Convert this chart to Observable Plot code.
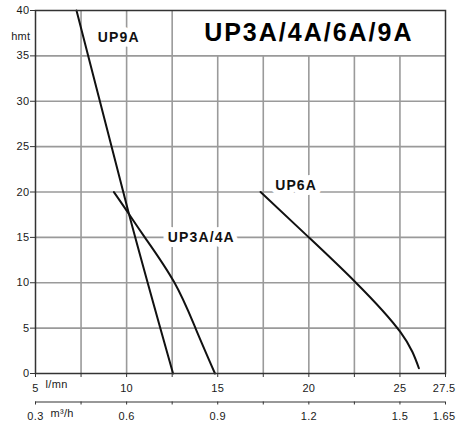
<!DOCTYPE html>
<html>
<head>
<meta charset="utf-8">
<script src="https://cdn.jsdelivr.net/npm/d3@7"></script>
<script src="https://cdn.jsdelivr.net/npm/@observablehq/plot@0.6"></script>
<style>
  html, body { margin: 0; padding: 0; background: white; }
</style>
</head>
<body>
<div id="chart"></div>
<script>
// ---- data ----
const title = "UP3A/4A/6A/9A";

// UP9A curve: flow (l/mn) and head (m)
const up9aFlow = [7.25, 10.1, 12.55];
const up9aHead = [40, 17.8, 0];

// UP3A/4A curve
const up3aFlow = [9.3, 10.12, 11.0, 12.6, 13.8, 14.85];
const up3aHead = [20, 17.6, 15.0, 10.1, 4.9, 0];

// UP6A curve
const up6aFlow = [17.35, 20.0, 22.56, 25.03, 26.04];
const up6aHead = [20, 15.0, 10.06, 4.55, 0.58];

// curve labels and where they sit
const curveNames = ["UP9A", "UP3A/4A", "UP6A"];
const labelFlow = [9.57, 14.1, 19.3];
const labelHead = [37, 15, 20.7];

// axes
const flowTicks = [5, 7.5, 10, 12.5, 15, 17.5, 20, 22.5, 25, 27.5];
const flowTickLabels = ["5", "", "10", "", "15", "", "20", "", "25", "27.5"];
const m3hTickLabels = ["0.3", "", "0.6", "", "0.9", "", "1.2", "", "1.5", "1.65"];
const headTicks = [0, 5, 10, 15, 20, 25, 30, 35, 40];
const gridFlow = [7.5, 10, 12.5, 15, 17.5, 20, 22.5, 25];
const gridHead = [5, 10, 15, 20, 25, 30, 35];

// title cell in the grid (flow 12.5–27.5, head 35–40)
const titleCell = {x1: 12.5, x2: 27.5, y1: 35, y2: 40};

// ---- build tables ----
const curves = [
  ...up9aFlow.map((q, i) => ({name: "UP9A", q, h: up9aHead[i]})),
  ...up3aFlow.map((q, i) => ({name: "UP3A/4A", q, h: up3aHead[i]})),
  ...up6aFlow.map((q, i) => ({name: "UP6A", q, h: up6aHead[i]}))
];
const labels = curveNames.map((n, i) => ({n, q: labelFlow[i], h: labelHead[i]}));
const lastTick = flowTicks[flowTicks.length - 1];
const flowLabelMap = new Map(flowTicks.map((t, i) => [t, t === lastTick ? "" : flowTickLabels[i]]));
const m3hLabelMap = new Map(flowTicks.map((t, i) => [t, t === lastTick ? "" : m3hTickLabels[i]]));
const vGrid = gridFlow.map(v => ({v, top: v > titleCell.x1 ? titleCell.y1 : titleCell.y2}));

const gridColor = "#9a9a9a";
const axisColor = "#333";
const tickText = "#1a1a1a";

const chart = Plot.plot({
  width: 456,
  height: 423,
  marginLeft: 35,
  marginRight: 11,
  marginTop: 10,
  marginBottom: 50,
  style: {
    fontFamily: "'Liberation Sans', Arial, sans-serif",
    background: "white",
    overflow: "visible"
  },
  x: {domain: [5, 27.5]},
  y: {domain: [0, 40]},
  marks: [
    // grid
    Plot.ruleY(gridHead, {stroke: gridColor, strokeWidth: 1.6}),
    Plot.ruleX(vGrid, {x: "v", y1: 0, y2: "top", stroke: gridColor, strokeWidth: 1.6}),
    // curves
    Plot.line(curves, {x: "q", y: "h", z: "name", stroke: "#111", strokeWidth: 2, curve: "natural"}),
    // curve labels with white background
    Plot.text(labels, {x: "q", y: "h", text: "n", fontSize: 14, fontWeight: "bold",
      fill: "#111", stroke: "white", strokeWidth: 10, className: "wide"}),
    // title
    Plot.text([title], {x: (titleCell.x1 + titleCell.x2) / 2, y: (titleCell.y1 + titleCell.y2) / 2,
      fontSize: 25, fontWeight: "bold", fill: "#000", className: "wide"}),
    // frame
    Plot.frame({stroke: axisColor, strokeWidth: 1.5}),
    // y axis
    Plot.axisY(headTicks, {anchor: "left", tickSize: 5, tickPadding: 1, fontSize: 11,
      fill: tickText, stroke: axisColor, label: null}),
    Plot.text(["hmt"], {frameAnchor: "top-left", dx: -5, dy: 22, textAnchor: "end",
      fontSize: 11, fill: tickText}),
    // x axis (l/mn)
    Plot.axisX(flowTicks, {anchor: "bottom", tickSize: 4, tickPadding: 6.5, fontSize: 11,
      fill: tickText, stroke: axisColor, label: null, tickFormat: d => flowLabelMap.get(d)}),
    Plot.text([flowTickLabels[flowTickLabels.length - 1]], {x: lastTick, frameAnchor: "bottom",
      lineAnchor: "top", textAnchor: "end", dx: 10, dy: 10.5, fontSize: 11, fill: tickText}),
    Plot.text(["l/mn"], {frameAnchor: "bottom-left", dx: 10, dy: 14, textAnchor: "start",
      fontSize: 11, fill: tickText}),
    // second x axis (m³/h)
    Plot.ruleY([0], {dy: 28.5, stroke: axisColor, strokeWidth: 1.2}),
    Plot.axisX(flowTicks, {anchor: "bottom", dy: 28.5, tickSize: 3, tickPadding: 7, fontSize: 11,
      fill: tickText, stroke: axisColor, label: null, tickFormat: d => m3hLabelMap.get(d)}),
    Plot.text([m3hTickLabels[m3hTickLabels.length - 1]], {x: lastTick, frameAnchor: "bottom",
      lineAnchor: "top", textAnchor: "end", dx: 10, dy: 38.5, fontSize: 11, fill: tickText}),
    Plot.text(["m³/h"], {frameAnchor: "bottom-left", dx: 15, dy: 43, textAnchor: "start",
      fontSize: 11, fill: tickText})
  ]
});
// letter spacing relative to each text's own size
d3.select(chart).selectAll("text").attr("letter-spacing", "0.03em");
d3.select(chart).selectAll(".wide text").attr("letter-spacing", "0.08em");
document.getElementById("chart").append(chart);
</script>
</body>
</html>
